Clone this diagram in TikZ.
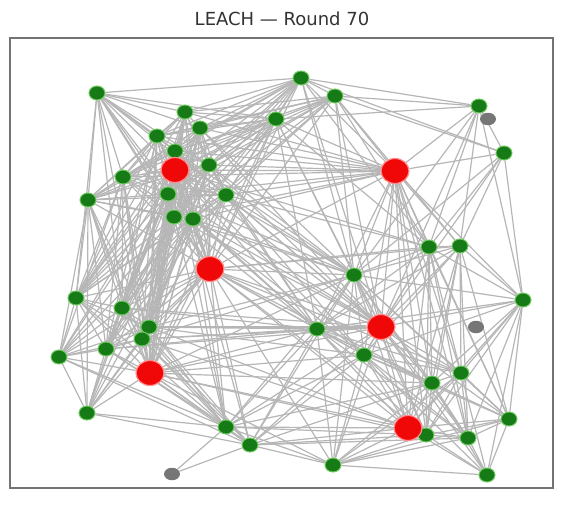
\documentclass[tikz,border=0pt]{standalone}
\usepackage{fontspec}
\setmainfont{DejaVu Sans}
\usetikzlibrary{backgrounds,shapes.geometric}
\definecolor{nodegreen}{RGB}{22,122,22}
\definecolor{halogreen}{RGB}{110,200,95}
\definecolor{chred}{RGB}{240,8,8}
\definecolor{halored}{RGB}{255,140,140}
\definecolor{deadgray}{RGB}{118,118,118}
\definecolor{edgegray}{RGB}{182,182,182}
\def\greens{1/97/93,2/301/78,3/335/96,4/479/106,5/185/112,6/276/119,7/157/136,8/200/128,9/175/151,10/209/165,11/123/177,12/226/195,13/88/200,14/168/194,15/504/153,16/174/217,17/193/219,18/429/247,19/460/246,20/354/275,21/76/298,22/122/308,23/523/300,24/149/327,25/142/339,26/317/329,27/59/357,28/106/349,29/364/355,30/432/383,31/461/373,32/87/413,33/226/427,34/250/445,35/333/465,36/426/435,37/468/438,38/509/419,39/487/475}
\def\reds{40/175/170,41/395/171,42/210/269,43/381/327,44/150/373,45/408/428}
\def\active{1/97/93,2/301/78,3/335/96,4/479/106,5/185/112,6/276/119,7/157/136,8/200/128,9/175/151,10/209/165,11/123/177,12/226/195,13/88/200,14/168/194,15/504/153,16/174/217,17/193/219,18/429/247,19/460/246,20/354/275,21/76/298,22/122/308,23/523/300,24/149/327,25/142/339,26/317/329,27/59/357,28/106/349,29/364/355,30/432/383,31/461/373,32/87/413,33/226/427,34/250/445,35/333/465,36/426/435,37/468/438,38/509/419,39/487/475,40/175/170,41/395/171,42/210/269,43/381/327,44/150/373,45/408/428}
\begin{document}
\begin{tikzpicture}[x=1pt,y=-1pt,
  member/.style={ellipse,fill=nodegreen,draw=halogreen,line width=1pt,minimum width=16pt,minimum height=14pt,inner sep=0pt},
  head/.style={ellipse,fill=chred,draw=halored,line width=1.2pt,minimum width=28pt,minimum height=25pt,inner sep=0pt},
  dead/.style={ellipse,fill=deadgray,minimum width=16pt,minimum height=12.5pt,inner sep=0pt},
  edge/.style={draw=edgegray,line width=1.2pt},
  frame/.style={draw=black!55,line width=1.4pt}]
\useasboundingbox (0,0) rectangle (566,517);
\node[font=\fontsize{18}{20}\selectfont,text=black!80] (title) at (282,19) {LEACH — Round 70};
\draw[frame] (10,38) rectangle (553,488);
% nodes
\foreach \i/\x/\y in \greens { \node[member] (n\i) at (\x,\y) {}; }
\foreach \i/\x/\y in \reds { \node[head] (n\i) at (\x,\y) {}; }
\node[dead] (n46) at (488,119) {};
\node[dead] (n47) at (476,327) {};
\node[dead] (n48) at (172,474) {};
% links
\begin{pgfonlayer}{background}
\foreach \i/\xi/\yi in \active {
  \foreach \j/\xj/\yj in \active {
    \ifnum\j>\i
      \pgfmathsetmacro\dd{veclen(\xj-\xi,\yj-\yi)}
      \pgfmathsetmacro\rr{(\j>39 || \i>39) ? 290 : 222}
      \ifdim\dd pt<\rr pt \draw[edge] (n\i) -- (n\j); \fi
    \fi
  }
}
\draw[edge] (n48) -- (n33);
\draw[edge] (n48) -- (n34);
\end{pgfonlayer}
\end{tikzpicture}
\end{document}
